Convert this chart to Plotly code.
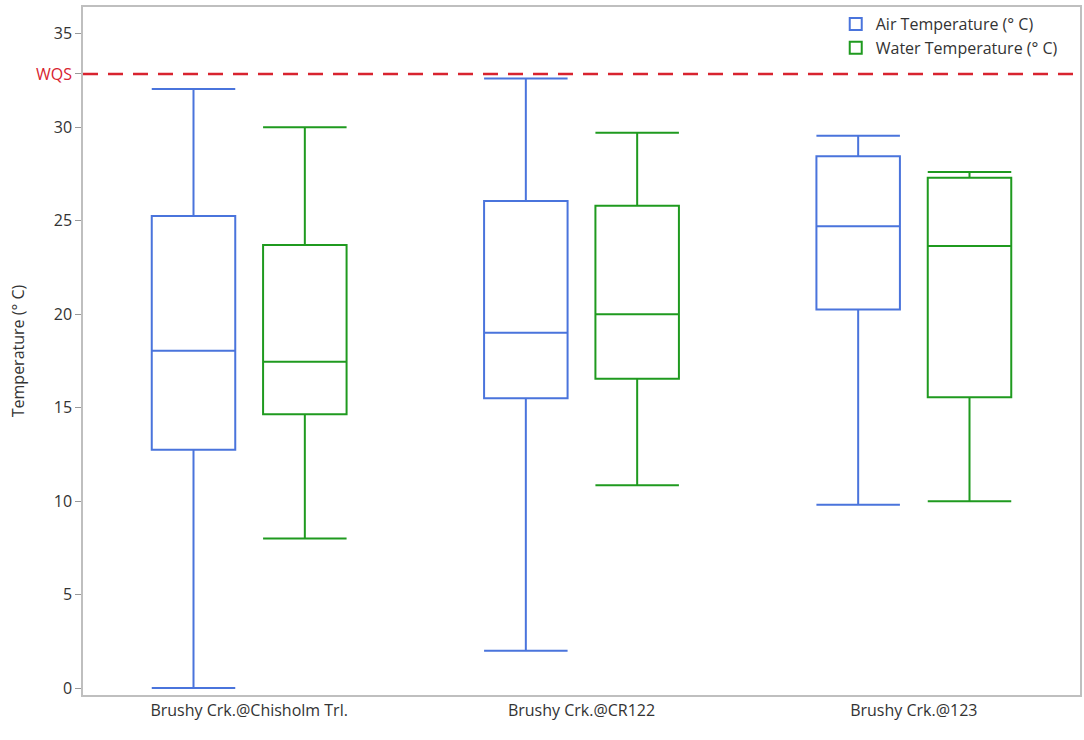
import plotly.graph_objects as go

sites = ["Brushy Crk.@Chisholm Trl.", "Brushy Crk.@CR122", "Brushy Crk.@123"]

air_low = [0.0, 2.0, 9.8]
air_q1 = [12.75, 15.5, 20.25]
air_med = [18.05, 19.0, 24.7]
air_q3 = [25.25, 26.05, 28.45]
air_high = [32.05, 32.6, 29.55]

water_low = [8.0, 10.85, 10.0]
water_q1 = [14.65, 16.55, 15.55]
water_med = [17.45, 20.0, 23.65]
water_q3 = [23.7, 25.8, 27.3]
water_high = [30.0, 29.7, 27.6]

wqs_value = 32.85
y_ticks = [0, 5, 10, 15, 20, 25, 30, 35]

blue = "#4a74dc"
green = "#1f9a1f"
red = "#d8232f"
font = "Open Sans, Noto Sans, sans-serif"

fig = go.Figure()
fig.add_trace(go.Box(
    name="Air Temperature (° C)", x=sites,
    q1=air_q1, median=air_med, q3=air_q3,
    lowerfence=air_low, upperfence=air_high,
    line=dict(color=blue, width=2), fillcolor="rgba(0,0,0,0)",
    whiskerwidth=1, boxpoints=False,
))
fig.add_trace(go.Box(
    name="Water Temperature (° C)", x=sites,
    q1=water_q1, median=water_med, q3=water_q3,
    lowerfence=water_low, upperfence=water_high,
    line=dict(color=green, width=2), fillcolor="rgba(0,0,0,0)",
    whiskerwidth=1, boxpoints=False,
))

fig.add_shape(type="line", xref="paper", x0=0, x1=1, yref="y",
              y0=wqs_value, y1=wqs_value,
              line=dict(color=red, width=2.5, dash="15px,10px"))

tickvals = y_ticks + [wqs_value]
ticktext = [str(v) for v in y_ticks] + [f'<span style="color:{red}">WQS</span>']

fig.update_layout(
    width=1084, height=740,
    margin=dict(l=83, r=2, t=7, b=45),
    paper_bgcolor="white", plot_bgcolor="white",
    boxmode="group", boxgap=0.33, boxgroupgap=0.25,
    font=dict(family=font, size=16, color="#333333"),
    showlegend=True,
    legend=dict(x=0.755, y=1.0, xanchor="left", yanchor="top",
                bgcolor="rgba(0,0,0,0)", font=dict(size=16, color="#333333"),
                tracegroupgap=0, itemwidth=30),
    xaxis=dict(range=[-0.5, 2.5], showgrid=False, showline=True,
               linecolor="#bfbfbf", linewidth=1.5, mirror=True, ticks="",
               tickfont=dict(size=16)),
    yaxis=dict(range=[-0.37, 36.43], showgrid=False, zeroline=False, showline=True,
               linecolor="#bfbfbf", linewidth=1.5, mirror=True,
               ticks="outside", ticklen=6, tickcolor="#999999",
               tickvals=tickvals, ticktext=ticktext, tickfont=dict(size=16),
               title=dict(text="Temperature (° C)", font=dict(size=16), standoff=7)),
)

fig.write_html("out.html", config={"displayModeBar": False},
               post_script="document.body.style.margin='0px';")
